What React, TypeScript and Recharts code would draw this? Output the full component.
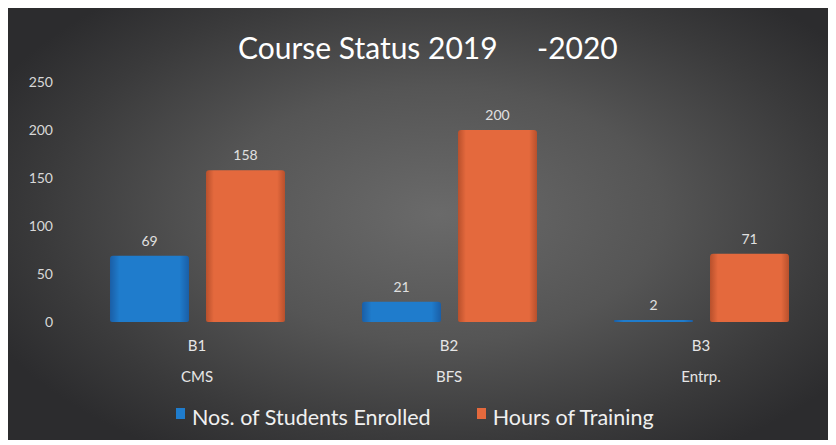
import React from 'react';
import { BarChart, Bar, XAxis, YAxis, Legend, LabelList } from 'recharts';

const categories = ['B1', 'B2', 'B3'];
const subLabels = ['CMS', 'BFS', 'Entrp.'];
const students = [69, 21, 2];
const hours = [158, 200, 71];
const yTicks = [0, 50, 100, 150, 200, 250];
const seriesNames = ['Nos. of Students Enrolled', 'Hours of Training'];
const seriesColors = ['#1f7ccc', '#e4693d'];

const data = categories.map((c, i) => ({
  name: c,
  sub: subLabels[i],
  students: students[i],
  hours: hours[i],
}));

const FONT = 'Lato, "Open Sans", sans-serif';

const XTick = (props: any) => {
  const { x, y, payload, index } = props;
  return (
    <g>
      <text x={x} y={y + 21} textAnchor="middle" fill="#e6e6e6" fontSize={15} fontFamily={FONT}>
        {payload.value}
      </text>
      <text x={x} y={y + 52} textAnchor="middle" fill="#e6e6e6" fontSize={15} fontFamily={FONT}>
        {subLabels[index] ?? data.find((d) => d.name === payload.value)?.sub}
      </text>
    </g>
  );
};

const LegendContent = () => (
  <div
    style={{
      display: 'flex',
      justifyContent: 'flex-start',
      alignItems: 'center',
      paddingLeft: 168,
      fontSize: 21.5,
      fontFamily: FONT,
      color: '#f0f0f0',
      lineHeight: '28px',
      height: 30,
    }}
  >
    {seriesNames.map((n, i) => (
      <div key={n} style={{ display: 'flex', alignItems: 'center', marginRight: i === 0 ? 46 : 0 }}>
        <span
          style={{
            display: 'inline-block',
            width: 9,
            height: 11,
            background: seriesColors[i],
            marginRight: 7,
            marginTop: -8,
          }}
        />
        <span>{n}</span>
      </div>
    ))}
  </div>
);

export default function App() {
  return (
    <div
      style={{
        position: 'relative',
        width: 828,
        height: 435,
        marginTop: -3,
        background:
          'radial-gradient(ellipse 60% 65% at 52% 48%, #6a6a6a 0%, #555555 45%, #3a3a3b 80%, #2c2c2e 100%)',
        fontFamily: FONT,
      }}
    >
      <div
        style={{
          position: 'absolute',
          left: 230,
          top: 24,
          fontSize: 30,
          lineHeight: '36px',
          color: '#ffffff',
          whiteSpace: 'pre',
          fontFamily: FONT,
        }}
      >
        Course Status 2019
      </div>
      <div
        style={{
          position: 'absolute',
          left: 529,
          top: 24,
          fontSize: 30,
          lineHeight: '36px',
          color: '#ffffff',
          whiteSpace: 'pre',
          fontFamily: FONT,
        }}
      >
        -2020
      </div>
      <BarChart
        width={828}
        height={435}
        data={data}
        margin={{ top: 77, right: 9, left: 0, bottom: 8 }}
        barGap={17}
        barSize={79}
      >
        <defs>
          <linearGradient id="blueG" x1="0" y1="0" x2="1" y2="0">
            <stop offset="0%" stopColor="#1a5ea6" />
            <stop offset="12%" stopColor="#1f7ccc" />
            <stop offset="88%" stopColor="#1f7ccc" />
            <stop offset="100%" stopColor="#1a5ea6" />
          </linearGradient>
          <linearGradient id="orangeG" x1="0" y1="0" x2="1" y2="0">
            <stop offset="0%" stopColor="#b8502c" />
            <stop offset="10%" stopColor="#e4693d" />
            <stop offset="90%" stopColor="#e4693d" />
            <stop offset="100%" stopColor="#b8502c" />
          </linearGradient>
        </defs>
        <XAxis
          dataKey="name"
          axisLine={false}
          tickLine={false}
          height={80}
          interval={0}
          tick={<XTick />}
        />
        <YAxis
          domain={[0, 250]}
          ticks={yTicks}
          width={63}
          axisLine={false}
          tickLine={false}
          tickMargin={12}
          tick={{ fill: '#d8d8d8', fontSize: 14, fontFamily: FONT }}
        />
        <Legend
          verticalAlign="bottom"
          wrapperStyle={{ height: 30 }}
          content={<LegendContent />}
        />
        <Bar
          dataKey="students"
          name={seriesNames[0]}
          fill="url(#blueG)"
          radius={[3, 3, 2, 2]}
          isAnimationActive={false}
        >
          <LabelList dataKey="students" position="top" offset={10} fill="#e0e0e0" fontSize={14} fontFamily={FONT} />
        </Bar>
        <Bar
          dataKey="hours"
          name={seriesNames[1]}
          fill="url(#orangeG)"
          radius={[3, 3, 2, 2]}
          isAnimationActive={false}
        >
          <LabelList dataKey="hours" position="top" offset={10} fill="#e0e0e0" fontSize={14} fontFamily={FONT} />
        </Bar>
      </BarChart>
    </div>
  );
}
